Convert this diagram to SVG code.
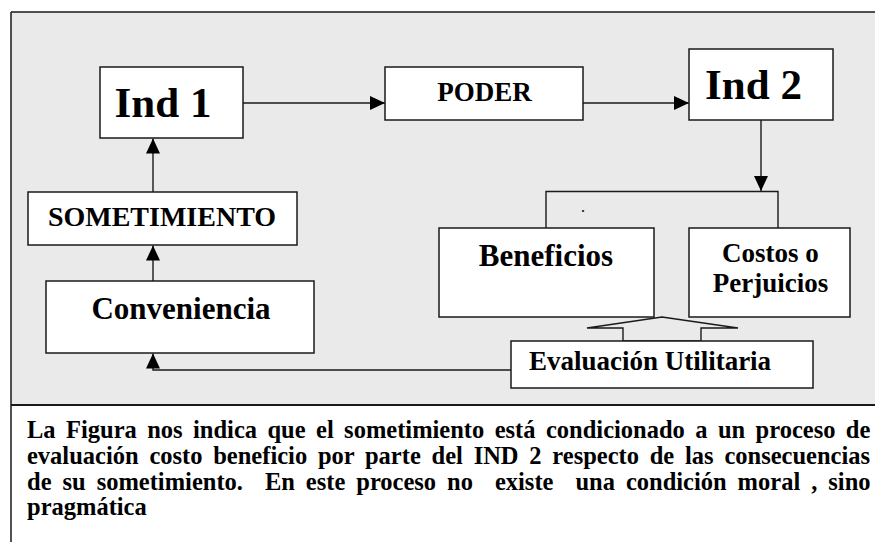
<svg xmlns="http://www.w3.org/2000/svg" width="875" height="542" viewBox="0 0 875 542">
<style>
.box{fill:#fff;stroke:#1a1a1a;stroke-width:1.5}
.t{font-family:"Liberation Serif","Times New Roman",serif;font-weight:bold;fill:#000;text-anchor:middle}
.c{stroke:#1a1a1a;stroke-width:1.4;fill:none}
.cap{font-family:"Liberation Serif","Times New Roman",serif;font-weight:bold;font-size:24.5px;fill:#000}
</style>
<defs>
<marker id="ah" markerUnits="userSpaceOnUse" markerWidth="16" markerHeight="14" refX="15" refY="7" orient="auto">
<path d="M0,0 L15,7 L0,14 z" fill="#000"/>
</marker>
</defs>
<rect x="0" y="0" width="875" height="542" fill="#fff"/>
<rect x="11" y="12" width="870" height="393" fill="#eaeaea"/>
<path d="M11,12 H875 M11,12 V542" stroke="#1a1a1a" stroke-width="1.5" fill="none"/>
<path d="M11,405 H875" stroke="#1a1a1a" stroke-width="2.2" fill="none"/>

<g id="connectors">
<path class="c" d="M243,103 H385" marker-end="url(#ah)"/>
<path class="c" d="M583,103 H689" marker-end="url(#ah)"/>
<path class="c" d="M761,120 V191" marker-end="url(#ah)"/>
<path class="c" d="M546,228 V191.5 H778 V228"/>
<path class="c" d="M153,192 V138.5" marker-end="url(#ah)"/>
<path class="c" d="M153,281 V245.5" marker-end="url(#ah)"/>
<path class="c" d="M511,370 H153 V353.5" marker-end="url(#ah)"/>
<polygon class="c" points="623,341 623,328 587,328 662,317 738,328 701,328 701,341"/>
</g>

<g id="ind1">
<rect class="box" x="100" y="67" width="143" height="71"/>
<text class="t" x="163" y="117" font-size="43">Ind 1</text>
</g>
<g id="poder">
<rect class="box" x="385" y="67" width="198" height="53"/>
<text class="t" x="484.5" y="101" font-size="27">PODER</text>
</g>
<g id="ind2">
<rect class="box" x="689" y="49" width="144" height="71"/>
<text class="t" x="753.5" y="99" font-size="43">Ind 2</text>
</g>
<g id="sometimiento">
<rect class="box" x="28" y="192" width="269" height="53"/>
<text class="t" x="162" y="226" font-size="28">SOMETIMIENTO</text>
</g>
<g id="conveniencia">
<rect class="box" x="46" y="281" width="268" height="72"/>
<text class="t" x="181" y="319" font-size="31">Conveniencia</text>
</g>
<g id="beneficios">
<rect class="box" x="439" y="228" width="215" height="89"/>
<text class="t" x="546" y="266" font-size="31">Beneficios</text>
</g>
<g id="costos">
<rect class="box" x="689" y="228" width="161" height="89"/>
<text class="t" x="770.5" y="262" font-size="27">Costos o</text>
<text class="t" x="770.5" y="292" font-size="27">Perjuicios</text>
</g>
<g id="evaluacion">
<rect class="box" x="511" y="341" width="302" height="47"/>
<text class="t" x="650" y="370" font-size="27">Evaluación Utilitaria</text>
</g>
<text class="t" x="583" y="212" font-size="12" font-weight="normal">.</text>

<g id="caption">
<text class="cap" x="27" y="438" word-spacing="4.3">La Figura nos indica que el sometimiento está condicionado a un proceso de</text>
<text class="cap" x="27" y="464" word-spacing="4.65">evaluación costo beneficio por parte del IND 2 respecto de las consecuencias</text>
<text class="cap" x="27" y="490" word-spacing="4.86" xml:space="preserve">de su sometimiento.  En este proceso no  existe  una condición moral , sino</text>
<text class="cap" x="27" y="515">pragmática</text>
</g>
</svg>
